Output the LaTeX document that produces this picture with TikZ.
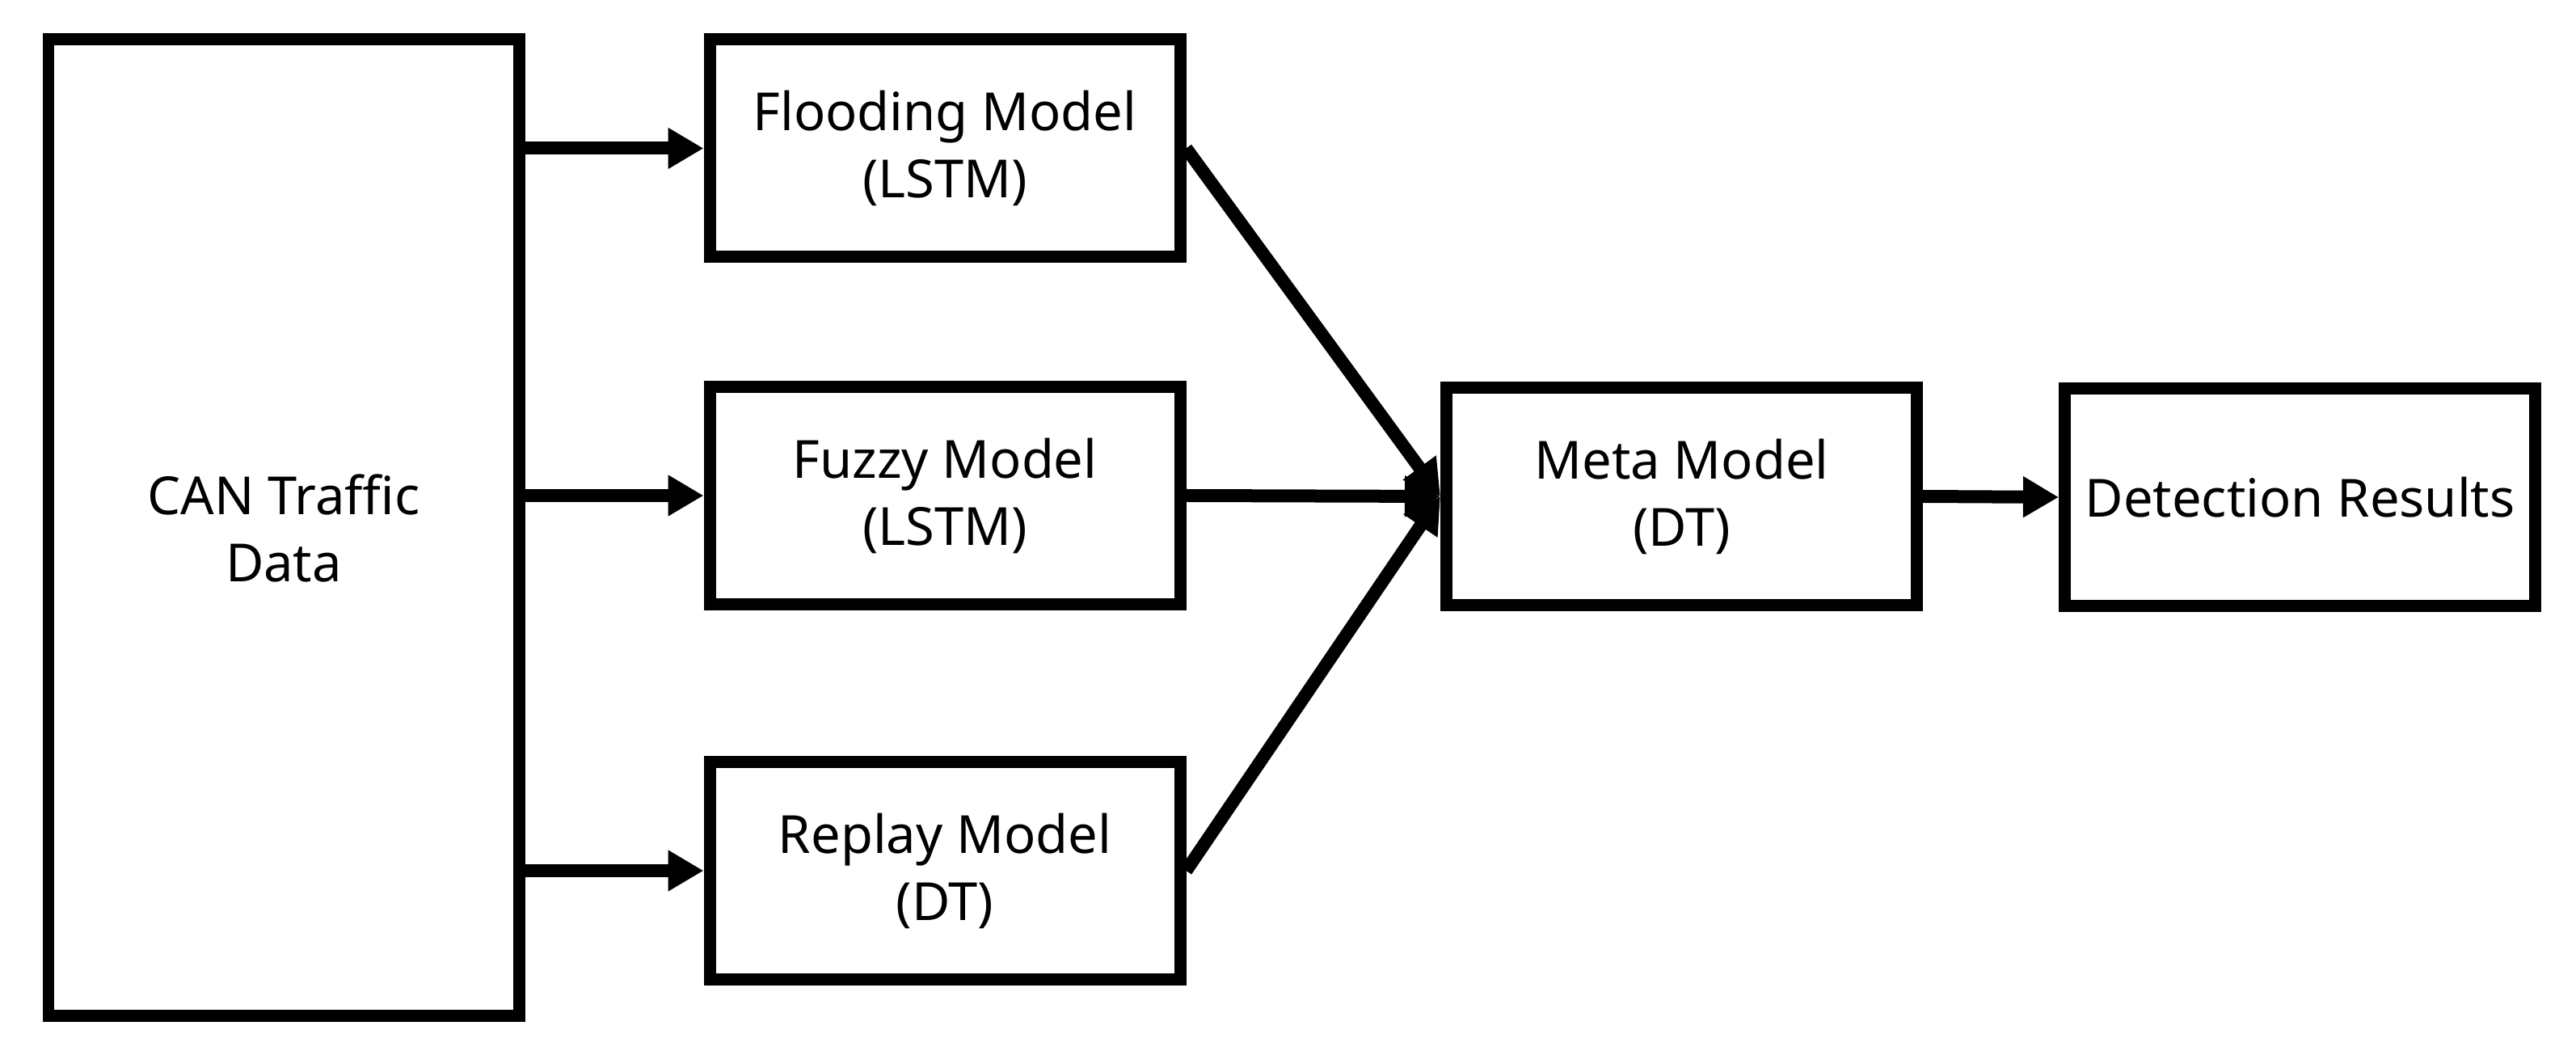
\documentclass[tikz,border=0pt]{standalone}
\usepackage{fontspec}
\setmainfont{Noto Sans}
\usepackage{tikz}
\usetikzlibrary{arrows.meta}

\tikzset{
   box/.style={draw, line width=0.15cm, align=center, inner sep=0pt,
      minimum width=5.82cm, minimum height=2.69cm},
   arr/.style={line width=0.16cm, -{Triangle[length=0.44cm,width=0.48cm]}}
}

\begin{document}
\begin{tikzpicture}
         \fontsize{18.5}{23.6}\selectfont
         \useasboundingbox (0,0) rectangle (31.87,12.99);

         \node[box, minimum height=12.08cm] at (3.51,6.46) (can) {CAN Traffic\\Data};
         \node[box] at (11.69,11.155) (flood) {Flooding Model\\(LSTM)};
         \node[box] at (11.69,6.86) (fuzzy) {Fuzzy Model\\(LSTM)};
         \node[box] at (11.69,2.22) (replay) {Replay Model\\(DT)};
         \node[box] at (20.805,6.85) (meta) {Meta Model\\(DT)};
         \node[box] at (28.455,6.84) (det) {Detection Results};

         \draw[arr] (can.east |- flood.west) -- (flood.west);
         \draw[arr] (can.east |- fuzzy.west) -- (fuzzy.west);
         \draw[arr] (can.east |- replay.west) -- (replay.west);

         \draw[arr] (flood.east) -- (meta.west);
         \draw[arr] (fuzzy.east) -- (meta.west);
         \draw[arr] (replay.east) -- (meta.west);

         \draw[arr] (meta.east) -- (det.west);
      \end{tikzpicture}
\end{document}
